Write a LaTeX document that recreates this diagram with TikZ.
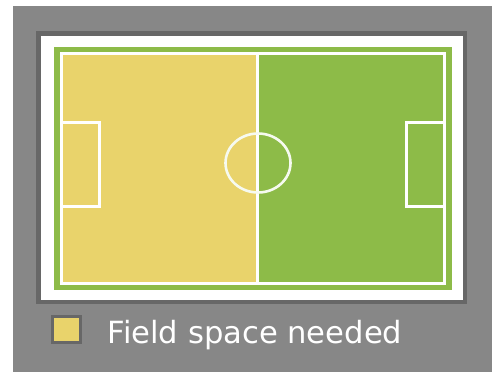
\documentclass[tikz,border=0pt]{standalone}
\usepackage{fontspec}
\setmainfont{DejaVu Sans}
\definecolor{bggray}{RGB}{135,135,135}
\definecolor{darkgray}{RGB}{103,103,103}
\definecolor{fieldyellow}{RGB}{233,211,107}
\definecolor{fieldgreen}{RGB}{141,187,72}
\tikzset{
  fieldline/.style={draw=white, line width=3pt},
  circleline/.style={draw=white!92!fieldgreen, line width=2.6pt},
}
\begin{document}
\begin{tikzpicture}[x=1pt,y=-1pt]
\useasboundingbox (0,0) rectangle (492,372);
\fill[white] (0,0) rectangle (492,372);
\fill[bggray] (13,6) rectangle (492,372);
% framed white board
\fill[darkgray] (36,31) rectangle (467,304);
\fill[white] (41,36) rectangle (463,300);
% pitch
\fill[fieldgreen] (54,47) rectangle (452,290);
\fill[fieldyellow] (61.5,53) rectangle (257.5,283.5);
\draw[fieldline] (61.5,53) rectangle (444.5,283.5);
\draw[fieldline] (257.5,53) -- (257.5,283.5);
\draw[fieldline] (61.5,122.5) -- (99.5,122.5) -- (99.5,206.5) -- (61.5,206.5);
\draw[fieldline] (444.5,122.5) -- (406.5,122.5) -- (406.5,206.5) -- (444.5,206.5);
\draw[circleline] (258,163) ellipse [x radius=32.5, y radius=29.5];
% legend
\draw[draw=darkgray, fill=fieldyellow, line width=3pt] (52.5,316.5) rectangle (80.5,342.5);
\node[anchor=base west, inner sep=0pt, text=white, font=\fontsize{30.6}{36}\selectfont] (legend) at (107.5,343) {Field space needed};
\end{tikzpicture}
\end{document}
